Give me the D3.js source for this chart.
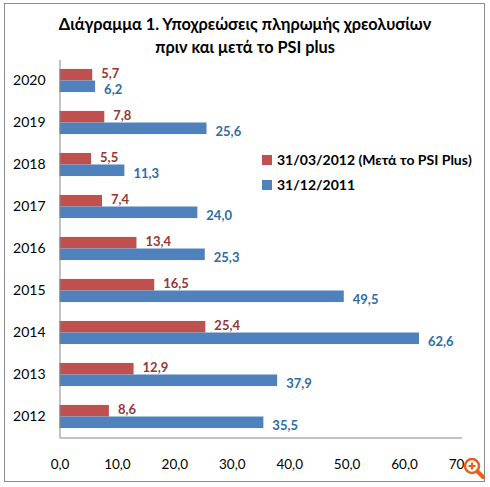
<!DOCTYPE html>
<html>
<head>
<meta charset="utf-8">
<script src="https://cdn.jsdelivr.net/npm/d3@7"></script>
<style>
  body { margin: 0; background: #fff; }
  text { font-family: Lato, "Open Sans", "Noto Sans", sans-serif; }
</style>
</head>
<body>
<div id="chart"></div>
<script>
// Data (in billions of euro)
const years = ['2020', '2019', '2018', '2017', '2016', '2015', '2014', '2013', '2012'];
const afterPSI = [5.7, 7.8, 5.5, 7.4, 13.4, 16.5, 25.4, 12.9, 8.6];
const before = [6.2, 25.6, 11.3, 24.0, 25.3, 49.5, 62.6, 37.9, 35.5];
const seriesNames = ['31/03/2012 (Μετά το PSI Plus)', '31/12/2011'];
const xTicks = [0, 10, 20, 30, 40, 50, 60, 70];
const titleLines = ['Διάγραμμα 1. Υποχρεώσεις πληρωμής χρεολυσίων', 'πριν και μετά το PSI plus'];

const width = 490, height = 487;
const margin = { top: 59.5, right: 28, bottom: 49.5, left: 59.5 };
const colors = ['#c0504d', '#4f81bd'];
const labelColors = ['#953735', '#2e6ca4'];

const fmt = (v) => d3.format('.1f')(v).replace('.', ',');

const svg = d3.select('#chart').append('svg').attr('width', width).attr('height', height);

// Outer frame
svg.append('rect')
  .attr('x', 4.5).attr('y', 3.5).attr('width', 480).attr('height', 478)
  .attr('fill', '#fff').attr('stroke', '#8c8c8c');

// Title
svg.append('g').selectAll('text').data(titleLines).join('text')
  .attr('x', 245).attr('y', (d, i) => 30 + i * 23)
  .attr('text-anchor', 'middle')
  .attr('font-size', 16.3).attr('font-weight', 'bold').attr('fill', '#000')
  .text((d) => d);

const x = d3.scaleLinear().domain([0, 70]).range([margin.left, width - margin.right - 0.5]);
const y = d3.scaleBand().domain(years).range([margin.top, height - margin.bottom])
  .paddingInner(0.45).paddingOuter(0.225);
const sub = d3.scaleBand().domain([0, 1]).range([0, y.bandwidth()]);

const rows = years.map((yr, i) => ({ yr, vals: [afterPSI[i], before[i]] }));

const g = svg.append('g');
const row = g.selectAll('g.row').data(rows).join('g')
  .attr('class', 'row')
  .attr('transform', (d) => `translate(0,${y(d.yr)})`);

row.selectAll('rect').data((d) => d.vals).join('rect')
  .attr('x', x(0)).attr('y', (d, i) => sub(i))
  .attr('width', (d) => x(d) - x(0)).attr('height', sub.bandwidth())
  .attr('fill', (d, i) => colors[i]);

row.selectAll('text.val').data((d) => d.vals).join('text')
  .attr('class', 'val')
  .attr('x', (d) => x(d) + 9).attr('y', (d, i) => sub(i) + sub.bandwidth() / 2 + (i ? 3.5 : -1))
  .attr('dy', '0.35em')
  .attr('font-size', 13).attr('font-weight', 'bold')
  .attr('fill', (d, i) => labelColors[i])
  .text(fmt);

// Axes
const yAxis = svg.append('g').attr('transform', `translate(${margin.left},0)`)
  .call(d3.axisLeft(y).tickSize(0).tickPadding(14));
yAxis.select('.domain').attr('stroke', '#868686');
yAxis.selectAll('text').attr('font-size', 14).attr('fill', '#000');

const xAxis = svg.append('g').attr('transform', `translate(0,${height - margin.bottom})`)
  .call(d3.axisBottom(x).tickValues(xTicks).tickFormat(fmt).tickSize(0).tickPadding(22));
xAxis.select('.domain').attr('stroke', '#868686');
xAxis.selectAll('text').attr('font-size', 13.5).attr('fill', '#000');

// Legend
const legend = svg.append('g').selectAll('g').data(seriesNames).join('g')
  .attr('transform', (d, i) => `translate(262,${155 + i * 25})`);
legend.append('rect').attr('width', 10).attr('height', 10).attr('fill', (d, i) => colors[i]);
legend.append('text').attr('x', 15).attr('y', 5).attr('dy', '0.35em')
  .attr('font-size', 14).attr('font-weight', 'bold').attr('fill', '#000')
  .text((d) => d);

// Zoom icon overlay from the page
const icon = svg.append('g').attr('transform', 'translate(472,466)');
icon.append('line').attr('x1', 4).attr('y1', 4).attr('x2', 11).attr('y2', 11)
  .attr('stroke', '#e8611a').attr('stroke-width', 4).attr('stroke-linecap', 'round');
icon.append('circle').attr('r', 7).attr('fill', '#fff').attr('stroke', '#e8611a').attr('stroke-width', 2.5);
icon.append('path').attr('d', 'M-3.5,0H3.5M0,-3.5V3.5').attr('stroke', '#e8611a').attr('stroke-width', 2.2);
</script>
</body>
</html>
